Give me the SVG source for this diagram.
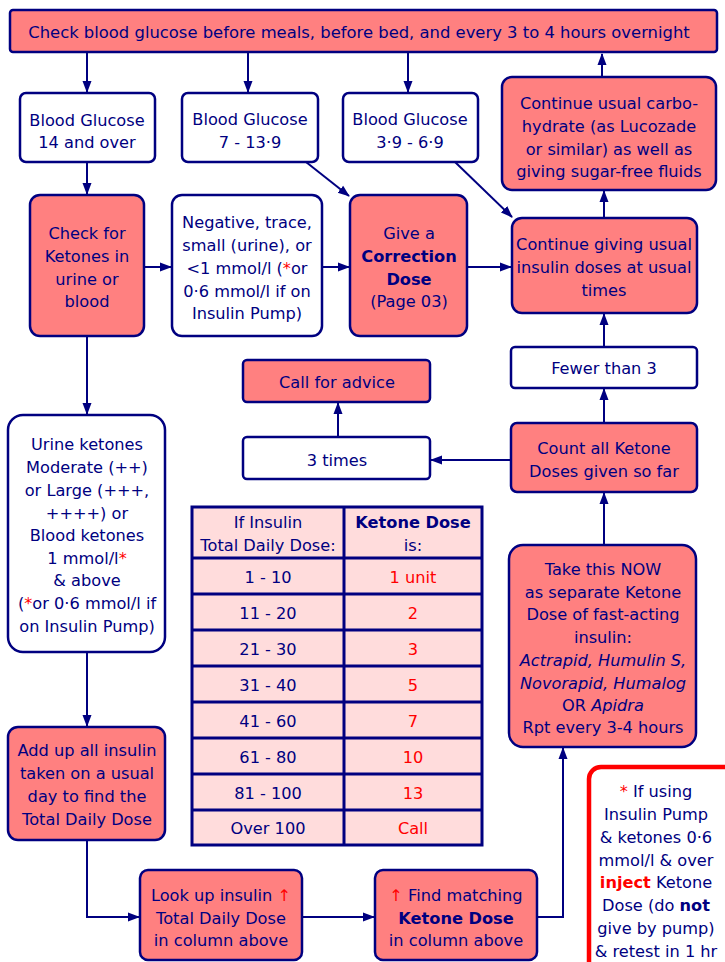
<svg xmlns="http://www.w3.org/2000/svg" width="725" height="962" viewBox="0 0 725 962">
<style>
text{font-family:"DejaVu Sans","Liberation Sans",Verdana,sans-serif;font-size:16.2px;fill:#000080;text-anchor:middle}
.b{font-weight:bold}
.r{fill:#FF0000}
.i{font-style:italic}
.pk{fill:#FF8080;stroke:#000080;stroke-width:2.5}
.wh{fill:#FFFFFF;stroke:#000080;stroke-width:2.5}
.ln{fill:none;stroke:#000080;stroke-width:2}
.tb{fill:#FFDCDC;stroke:#000080;stroke-width:3}
.tl{stroke:#000080;stroke-width:3}
</style>
<defs>
<marker id="ah" markerUnits="userSpaceOnUse" markerWidth="12" markerHeight="12" viewBox="0 0 12 12" refX="11" refY="6" orient="auto">
<path d="M0,1.5 L12,6 L0,10.5 Z" fill="#000080"/>
</marker>
</defs>
<rect width="725" height="962" fill="#FFFFFF"/>

<g id="connectors">
<line class="ln" x1="87" y1="52" x2="87" y2="92" marker-end="url(#ah)"/>
<line class="ln" x1="248" y1="52" x2="248" y2="92" marker-end="url(#ah)"/>
<line class="ln" x1="408" y1="52" x2="408" y2="92" marker-end="url(#ah)"/>
<line class="ln" x1="602" y1="78" x2="602" y2="54" marker-end="url(#ah)"/>
<line class="ln" x1="87" y1="162" x2="87" y2="194" marker-end="url(#ah)"/>
<line class="ln" x1="144" y1="267" x2="171" y2="267" marker-end="url(#ah)"/>
<line class="ln" x1="322" y1="267" x2="349" y2="267" marker-end="url(#ah)"/>
<line class="ln" x1="467" y1="267" x2="511" y2="267" marker-end="url(#ah)"/>
<line class="ln" x1="306" y1="162" x2="349" y2="196" marker-end="url(#ah)"/>
<line class="ln" x1="455" y1="162" x2="512" y2="217" marker-end="url(#ah)"/>
<line class="ln" x1="604" y1="218" x2="604" y2="191" marker-end="url(#ah)"/>
<line class="ln" x1="604" y1="347" x2="604" y2="314" marker-end="url(#ah)"/>
<line class="ln" x1="604" y1="423" x2="604" y2="389" marker-end="url(#ah)"/>
<line class="ln" x1="511" y1="460" x2="431" y2="460" marker-end="url(#ah)"/>
<line class="ln" x1="338" y1="437" x2="338" y2="403" marker-end="url(#ah)"/>
<line class="ln" x1="604" y1="545" x2="604" y2="493" marker-end="url(#ah)"/>
<line class="ln" x1="87" y1="336" x2="87" y2="414" marker-end="url(#ah)"/>
<line class="ln" x1="87" y1="652" x2="87" y2="726" marker-end="url(#ah)"/>
<polyline class="ln" points="87,840 87,917 139,917" marker-end="url(#ah)"/>
<line class="ln" x1="302" y1="917" x2="374" y2="917" marker-end="url(#ah)"/>
<polyline class="ln" points="537,917 563,917 563,748" marker-end="url(#ah)"/>
</g>

<g id="top">
<rect class="pk" x="10" y="10" width="707" height="42" rx="3"/>
<text x="359" y="38" style="font-size:16.4px">Check blood glucose before meals, before bed, and every 3 to 4 hours overnight</text>
</g>

<g id="bg14">
<rect class="wh" x="20" y="93" width="135" height="69" rx="6"/>
<text x="87" y="126">Blood Glucose</text>
<text x="87" y="148">14 and over</text>
</g>
<g id="bg7">
<rect class="wh" x="182" y="93" width="136" height="69" rx="6"/>
<text x="250" y="125">Blood Glucose</text>
<text x="250" y="148">7 - 13·9</text>
</g>
<g id="bg3">
<rect class="wh" x="343" y="93" width="135" height="69" rx="6"/>
<text x="410" y="125">Blood Glucose</text>
<text x="410" y="148">3·9 - 6·9</text>
</g>

<g id="carbo">
<rect class="pk" x="502" y="77" width="214" height="113" rx="10"/>
<text x="609" y="109">Continue usual carbo-</text>
<text x="609" y="132">hydrate (as Lucozade</text>
<text x="609" y="155">or similar) as well as</text>
<text x="609" y="177">giving sugar-free fluids</text>
</g>

<g id="checkket">
<rect class="pk" x="30" y="195" width="114" height="141" rx="10"/>
<text x="87" y="239">Check for</text>
<text x="87" y="262">Ketones in</text>
<text x="87" y="285">urine or</text>
<text x="87" y="307">blood</text>
</g>

<g id="negative">
<rect class="wh" x="172" y="195" width="150" height="141" rx="10"/>
<text x="247" y="228">Negative, trace,</text>
<text x="247" y="251">small (urine), or</text>
<text x="247" y="274">&lt;1 mmol/l (<tspan class="r">*</tspan>or</text>
<text x="247" y="297">0·6 mmol/l if on</text>
<text x="247" y="319">Insulin Pump)</text>
</g>

<g id="correction">
<rect class="pk" x="350" y="195" width="117" height="141" rx="10"/>
<text x="409" y="239">Give a</text>
<text x="409" y="262" class="b">Correction</text>
<text x="409" y="285" class="b">Dose</text>
<text x="409" y="307">(Page 03)</text>
</g>

<g id="continue">
<rect class="pk" x="512" y="218" width="185" height="95" rx="10"/>
<text x="604" y="250">Continue giving usual</text>
<text x="604" y="273">insulin doses at usual</text>
<text x="604" y="296">times</text>
</g>

<g id="fewer">
<rect class="wh" x="511" y="347" width="186" height="41" rx="4"/>
<text x="604" y="374">Fewer than 3</text>
</g>

<g id="advice">
<rect class="pk" x="243" y="360" width="187" height="42" rx="4"/>
<text x="337" y="388">Call for advice</text>
</g>

<g id="three">
<rect class="wh" x="243" y="437" width="187" height="42" rx="4"/>
<text x="337" y="466">3 times</text>
</g>

<g id="count">
<rect class="pk" x="511" y="423" width="186" height="69" rx="6"/>
<text x="604" y="454">Count all Ketone</text>
<text x="604" y="477">Doses given so far</text>
</g>

<g id="takenow">
<rect class="pk" x="509" y="545" width="187" height="202" rx="14"/>
<text x="603" y="575">Take this NOW</text>
<text x="603" y="598">as separate Ketone</text>
<text x="603" y="620">Dose of fast-acting</text>
<text x="603" y="643">insulin:</text>
<text x="603" y="666" class="i">Actrapid, Humulin S,</text>
<text x="603" y="689" class="i">Novorapid, Humalog</text>
<text x="603" y="711">OR <tspan class="i">Apidra</tspan></text>
<text x="603" y="733">Rpt every 3-4 hours</text>
</g>

<g id="urine">
<rect class="wh" x="8" y="415" width="157" height="237" rx="15"/>
<text x="87" y="450">Urine ketones</text>
<text x="87" y="473">Moderate (++)</text>
<text x="87" y="496">or Large (+++,</text>
<text x="87" y="519">++++) or</text>
<text x="87" y="541">Blood ketones</text>
<text x="87" y="564">1 mmol/l<tspan class="r">*</tspan></text>
<text x="87" y="586">&amp; above</text>
<text x="87" y="609">(<tspan class="r">*</tspan>or 0·6 mmol/l if</text>
<text x="87" y="632">on Insulin Pump)</text>
</g>

<g id="table">
<rect class="tb" x="192" y="507" width="290" height="338"/>
<line class="tl" x1="344" y1="507" x2="344" y2="845"/>
<line class="tl" x1="192" y1="558" x2="482" y2="558"/>
<line class="tl" x1="192" y1="594" x2="482" y2="594"/>
<line class="tl" x1="192" y1="630" x2="482" y2="630"/>
<line class="tl" x1="192" y1="666" x2="482" y2="666"/>
<line class="tl" x1="192" y1="702" x2="482" y2="702"/>
<line class="tl" x1="192" y1="738" x2="482" y2="738"/>
<line class="tl" x1="192" y1="774" x2="482" y2="774"/>
<line class="tl" x1="192" y1="810" x2="482" y2="810"/>
<text x="268" y="528">If Insulin</text>
<text x="268" y="551">Total Daily Dose:</text>
<text x="413" y="528" class="b">Ketone Dose</text>
<text x="413" y="551">is:</text>
<text x="268" y="583">1 - 10</text>
<text x="268" y="619">11 - 20</text>
<text x="268" y="655">21 - 30</text>
<text x="268" y="691">31 - 40</text>
<text x="268" y="727">41 - 60</text>
<text x="268" y="763">61 - 80</text>
<text x="268" y="799">81 - 100</text>
<text x="268" y="834">Over 100</text>
<text x="413" y="583" class="r">1 unit</text>
<text x="413" y="619" class="r">2</text>
<text x="413" y="655" class="r">3</text>
<text x="413" y="691" class="r">5</text>
<text x="413" y="727" class="r">7</text>
<text x="413" y="763" class="r">10</text>
<text x="413" y="799" class="r">13</text>
<text x="413" y="834" class="r">Call</text>
</g>

<g id="addup">
<rect class="pk" x="8" y="727" width="157" height="113" rx="10"/>
<text x="87" y="756">Add up all insulin</text>
<text x="87" y="779">taken on a usual</text>
<text x="87" y="802">day to find the</text>
<text x="87" y="825">Total Daily Dose</text>
</g>

<g id="lookup">
<rect class="pk" x="140" y="870" width="162" height="90" rx="8"/>
<text x="221" y="901">Look up insulin <tspan class="r">↑</tspan></text>
<text x="221" y="924">Total Daily Dose</text>
<text x="221" y="946">in column above</text>
</g>

<g id="findmatch">
<rect class="pk" x="375" y="870" width="162" height="90" rx="8"/>
<text x="456" y="901"><tspan class="r">↑</tspan> Find matching</text>
<text x="456" y="924" class="b">Ketone Dose</text>
<text x="456" y="946">in column above</text>
</g>

<g id="pumpnote">
<rect x="589" y="767" width="150" height="210" rx="12" fill="#FFFFFF" stroke="#FF0000" stroke-width="4.5"/>
<text x="656" y="797"><tspan class="r">*</tspan>  If using</text>
<text x="656" y="820">Insulin Pump</text>
<text x="656" y="843">&amp; ketones 0·6</text>
<text x="656" y="866">mmol/l &amp; over</text>
<text x="656" y="888"><tspan class="r b">inject</tspan> Ketone</text>
<text x="656" y="911">Dose (do <tspan class="b">not</tspan></text>
<text x="656" y="934">give by pump)</text>
<text x="656" y="957">&amp; retest in 1 hr</text>
</g>
</svg>
